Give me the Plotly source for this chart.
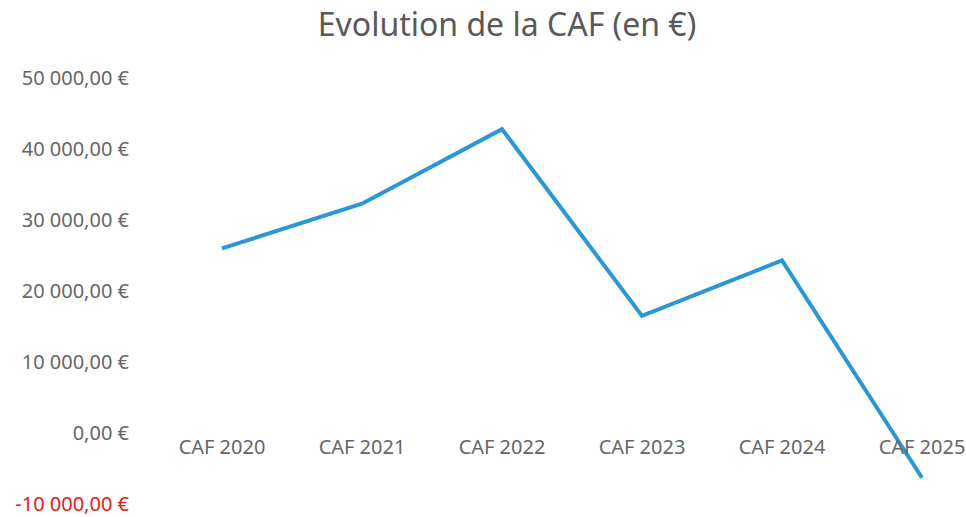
import plotly.graph_objects as go

categories = ["CAF 2020", "CAF 2021", "CAF 2022", "CAF 2023", "CAF 2024", "CAF 2025"]
caf_values = [26000, 32300, 42800, 16500, 24300, -6300]
tick_vals = [-10000, 0, 10000, 20000, 30000, 40000, 50000]
tick_text = ['<span style="color:#E0201B">-10 000,00 €</span>', "0,00 €", "10 000,00 €",
             "20 000,00 €", "30 000,00 €", "40 000,00 €", "50 000,00 €"]

W, H = 966, 517
ml, mr, mt, mb = 152, 0, 78, 11
ymin, ymax = -10000, 50000

fig = go.Figure()
fig.add_trace(go.Scatter(
    x=list(range(len(categories))), y=caf_values, mode="lines",
    line=dict(color="#2A96D6", width=4), hoverinfo="skip", showlegend=False,
))

fig.update_layout(
    width=W, height=H,
    margin=dict(l=ml, r=mr, t=mt, b=mb),
    paper_bgcolor="white", plot_bgcolor="white",
    font=dict(family="Noto Sans", color="#666666"),
    title=dict(text="Evolution de la CAF (en €)", x=507 / W, xanchor="center",
               xref="container", y=1 - 25 / H, yanchor="middle", yref="container",
               font=dict(size=32, color="#595959", family="Noto Sans")),
    xaxis=dict(
        tickmode="array", tickvals=list(range(len(categories))), ticktext=categories,
        range=[-0.5, -0.5 + (W - ml) / 140.0],
        showgrid=False, showline=False, zeroline=False,
        anchor="free", position=(0 - ymin) / (ymax - ymin),
        tickfont=dict(size=20, color="#666666"), ticks="", ticklabeloverflow="allow",
    ),
    yaxis=dict(
        range=[ymin, ymax], tickmode="array", tickvals=tick_vals, ticktext=tick_text,
        showgrid=False, showline=False, zeroline=False,
        tickfont=dict(size=20, color="#666666"), ticks="", ticklabelstandoff=22,
        ticklabeloverflow="allow",
    ),
)

fig.write_html(
    "out.html",
    config={"displayModeBar": False},
    post_script="document.body.style.margin='0';document.body.style.overflow='hidden';",
)
